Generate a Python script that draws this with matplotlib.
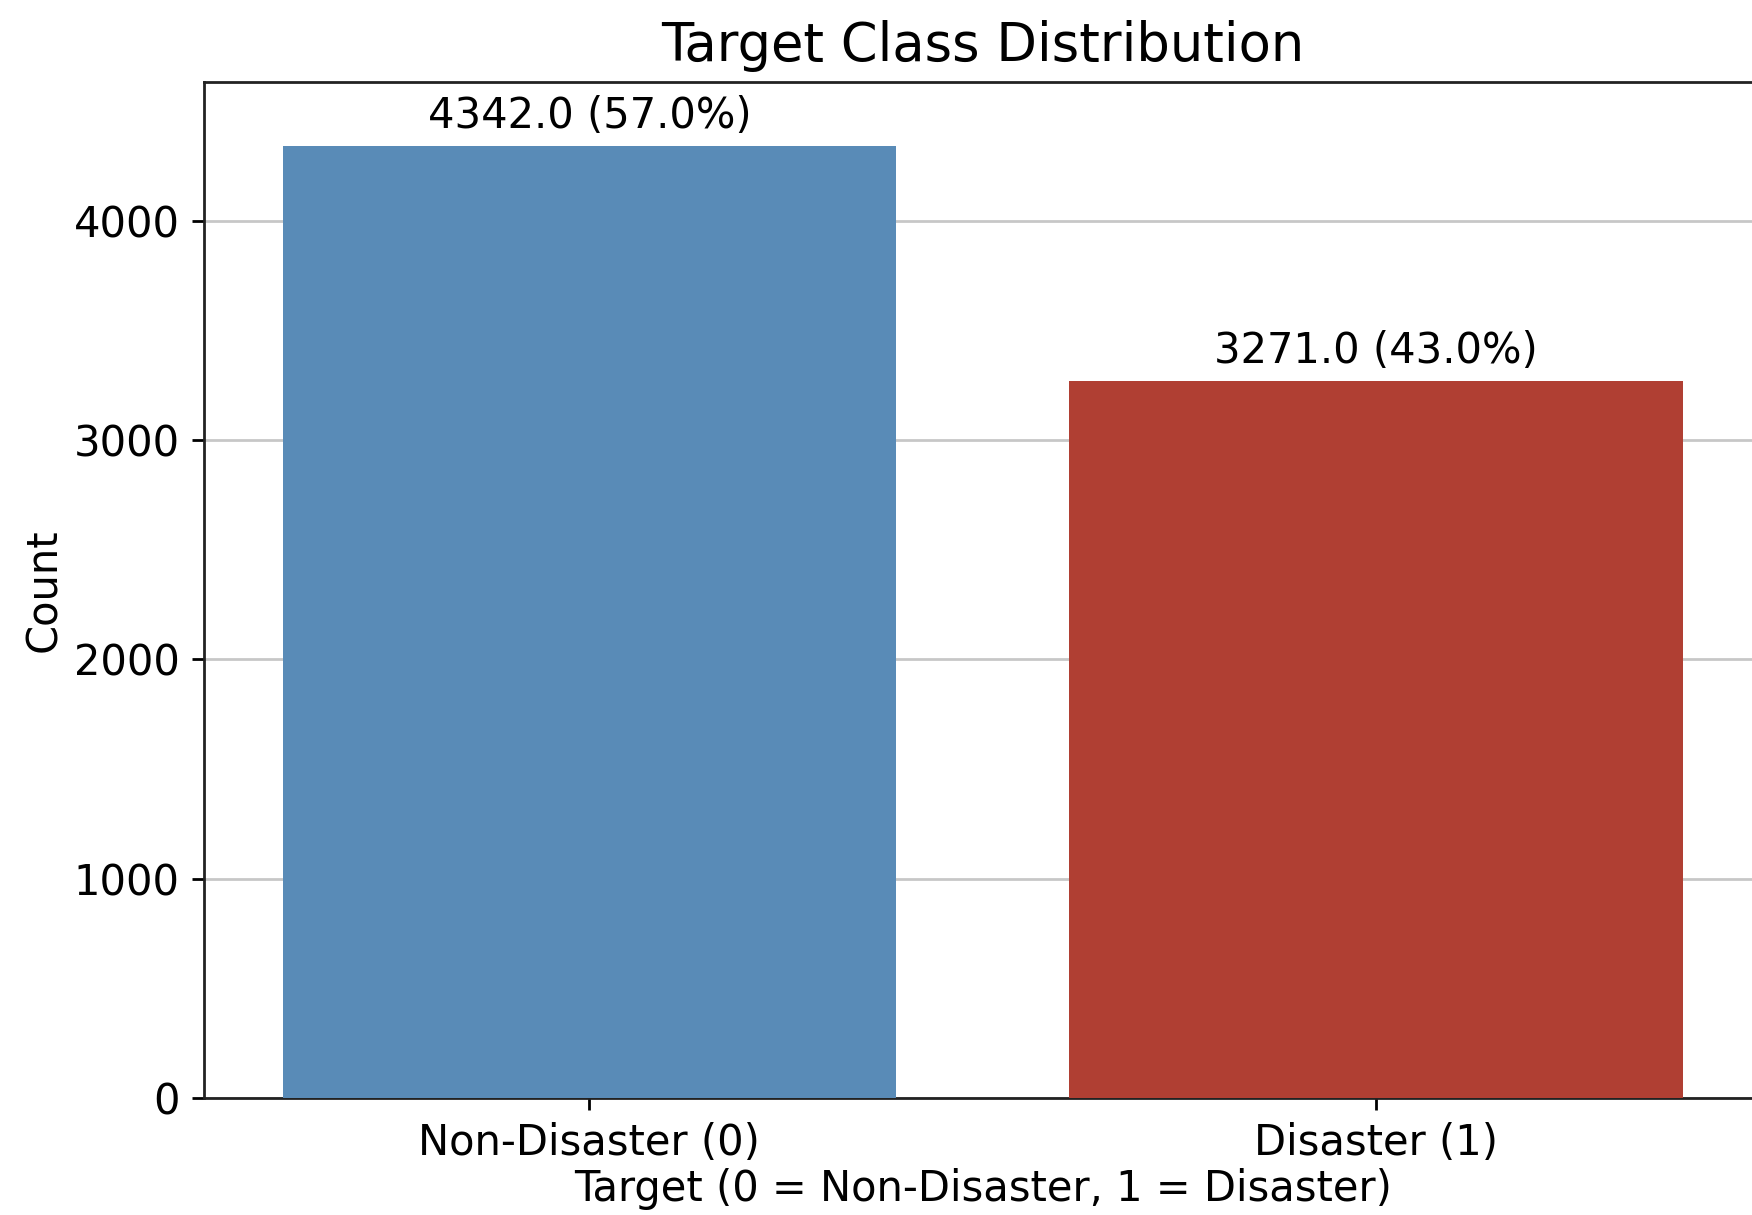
import matplotlib
matplotlib.use("Agg")
import matplotlib.pyplot as plt

# Class counts for the target column
categories = ["Non-Disaster (0)", "Disaster (1)"]
counts = [4342, 3271]
bar_colors = ["#598bb7", "#b03f33"]

total = sum(counts)
percents = [c / total * 100 for c in counts]

plt.rcParams["font.family"] = ["DejaVu Sans"]

fig = plt.figure(figsize=(1752 / 250, 1215 / 250), dpi=250)
ax = fig.add_axes([0.1164, 0.0963, 0.889, 0.8362])

x = list(range(len(categories)))
bars = ax.bar(x, counts, width=0.78, color=bar_colors, zorder=3)

for xi, c, p in zip(x, counts, percents):
    ax.annotate(f"{float(c)} ({p:.1f}%)", xy=(xi, c), xytext=(0, 2.5),
                textcoords="offset points", ha="center", va="bottom",
                fontsize=12)

ax.set_xticks(x)
ax.set_xticklabels(categories, fontsize=12)
ax.set_xlim(-0.49, 1.49)
ax.set_ylim(0, 4633)
ax.set_yticks([0, 1000, 2000, 3000, 4000])
ax.tick_params(axis="y", labelsize=12)

ax.yaxis.grid(True, color="#b0b0b0", alpha=0.7, linewidth=0.8, zorder=0)
ax.set_axisbelow(True)
ax.spines["right"].set_visible(False)
for side in ("left", "top", "bottom"):
    ax.spines[side].set_color("#222222")

ax.set_title("Target Class Distribution", fontsize=15.2)
ax.set_xlabel("Target (0 = Non-Disaster, 1 = Disaster)", fontsize=12, labelpad=1)
ax.set_ylabel("Count", fontsize=12, labelpad=2.5)

fig.savefig("out.png", dpi=250)
